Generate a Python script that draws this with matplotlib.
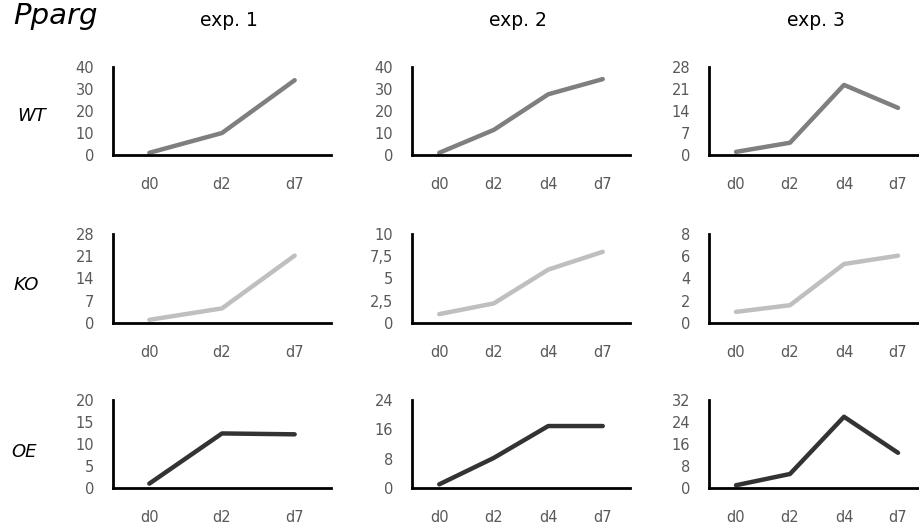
import matplotlib
matplotlib.use("Agg")
import matplotlib.pyplot as plt
from matplotlib.ticker import FuncFormatter

plt.rcParams['font.family'] = ['DejaVu Sans']

gene = "Pparg"
experiments = ["exp. 1", "exp. 2", "exp. 3"]
genotypes = ["WT", "KO", "OE"]
days_exp1 = ["d0", "d2", "d7"]
days_exp23 = ["d0", "d2", "d4", "d7"]

wt_exp1 = [1, 10, 34]
wt_exp2 = [1, 11.4, 27.6, 34.5]
wt_exp3 = [1, 3.9, 22.3, 15]
ko_exp1 = [1, 4.6, 21.2]
ko_exp2 = [1, 2.2, 6.0, 8.0]
ko_exp3 = [1, 1.6, 5.3, 6.05]
oe_exp1 = [1, 12.4, 12.2]
oe_exp2 = [1, 8.2, 16.9, 16.9]
oe_exp3 = [1, 5.1, 25.9, 12.8]

yticks = {
    ("WT", 0): [0, 10, 20, 30, 40], ("WT", 1): [0, 10, 20, 30, 40], ("WT", 2): [0, 7, 14, 21, 28],
    ("KO", 0): [0, 7, 14, 21, 28], ("KO", 1): [0, 2.5, 5, 7.5, 10], ("KO", 2): [0, 2, 4, 6, 8],
    ("OE", 0): [0, 5, 10, 15, 20], ("OE", 1): [0, 8, 16, 24], ("OE", 2): [0, 8, 16, 24, 32],
}
data = {
    "WT": [wt_exp1, wt_exp2, wt_exp3],
    "KO": [ko_exp1, ko_exp2, ko_exp3],
    "OE": [oe_exp1, oe_exp2, oe_exp3],
}
colors = {"WT": "#7f7f7f", "KO": "#bfbfbf", "OE": "#333333"}

W, H = 919, 528
fig = plt.figure(figsize=(W / 100, H / 100), dpi=100)

col_left = [113, 412, 709]
col_w = [218, 218, 216]
row_top = [67, 234, 400]
row_bot = [155, 323, 488]
row_label_y = [116, 285, 452]
row_label_x = [17, 14, 11]

def fmt(v, pos):
    s = ("%g" % v)
    return s.replace(".", ",")

for r, g in enumerate(genotypes):
    for c in range(3):
        left = col_left[c] / W
        bottom = 1 - row_bot[r] / H
        width = col_w[c] / W
        height = (row_bot[r] - row_top[r]) / H
        ax = fig.add_axes([left, bottom, width, height])
        days = days_exp1 if c == 0 else days_exp23
        vals = data[g][c]
        xs = list(range(len(days)))
        ax.plot(xs, vals, color=colors[g], lw=3.2, solid_capstyle='round', solid_joinstyle='round', clip_on=False)
        ax.set_xlim(-0.5, len(days) - 0.5)
        yt = yticks[(g, c)]
        ax.set_ylim(0, yt[-1])
        ax.set_yticks(yt)
        ax.yaxis.set_major_formatter(FuncFormatter(fmt))
        ax.set_xticks(xs)
        ax.set_xticklabels(days)
        for s in ["top", "right"]:
            ax.spines[s].set_visible(False)
        for s in ["left", "bottom"]:
            ax.spines[s].set_linewidth(2.0)
            ax.spines[s].set_color("black")
        ax.tick_params(axis='both', length=0, labelsize=10.5, colors="#595959")
        ax.tick_params(axis='y', pad=13.5)
        ax.tick_params(axis='x', pad=16)
        ax.patch.set_visible(False)
    fig.text(row_label_x[r] / W, 1 - row_label_y[r] / H, g, fontsize=13, style='italic',
             ha='left', va='center', color='black')

exp_x = [229, 518, 816]
for c, e in enumerate(experiments):
    fig.text(exp_x[c] / W, 1 - 26.5 / H, e, fontsize=13.5, ha='center', va='baseline', color='black')

fig.text(13 / W, 1 - 23.5 / H, gene, fontsize=21, style='italic', ha='left', va='baseline', color='black')

fig.savefig("out.png", dpi=100)
